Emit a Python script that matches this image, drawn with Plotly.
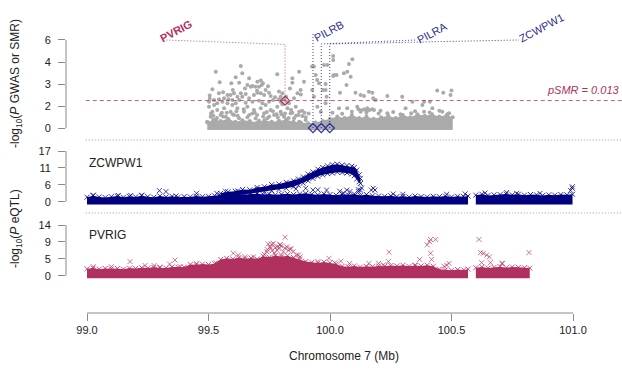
import plotly.graph_objects as go

# ---------------- data ----------------
x_tick_vals = [99.0, 99.5, 100.0, 100.5, 101.0]
x_tick_text = ["99.0", "99.5", "100.0", "100.5", "101.0"]
top_tick_vals = [0, 1.5, 3, 4.5, 6]
top_tick_text = ["0", "2", "3", "4", "6"]
mid_tick_vals = [0, 5.667, 11.333, 17]
mid_tick_text = ["0", "6", "11", "17"]
bot_tick_vals = [0, 4.667, 9.333, 14]
bot_tick_text = ["0", "5", "9", "14"]

p_smr_threshold = 0.013
p_smr_line = 1.886

gene_names = ["PVRIG", "PILRB", "PILRA", "ZCWPW1"]
gene_pos = [99.815, 99.930, 99.964, 99.999]
gene_smr = [1.88, 0.02, 0.02, 0.02]

# GWAS: dense core envelope + scattered points
gwas_core_x = [99.495, 99.52, 99.55, 99.58, 99.61, 99.64, 99.67, 99.70, 99.73, 99.76, 99.79, 99.82,
               99.85, 99.88, 99.91, 99.94, 99.97, 100.00, 100.03, 100.06, 100.09, 100.12, 100.15,
               100.18, 100.21, 100.24, 100.27, 100.30, 100.33, 100.36, 100.39, 100.42, 100.45,
               100.48, 100.505]
gwas_core_top = [0.4, 0.6, 0.5, 0.65, 0.45, 0.55, 0.5, 0.4, 0.55, 0.45, 0.5, 0.6, 0.45, 0.4, 0.35,
                 0.4, 0.5, 0.65, 0.8, 0.7, 0.9, 0.7, 0.8, 0.65, 0.75, 0.85, 0.7, 0.9, 0.75, 0.95,
                 0.85, 0.95, 0.8, 0.9, 0.75]
gwas_x = [99.633, 99.530, 99.873, 99.639, 99.783, 99.612, 99.845, 99.667, 99.546, 99.594, 99.626,
          99.845, 99.701, 99.715, 99.724, 99.681, 99.660, 99.674, 99.694, 99.708, 99.719, 99.735,
          99.749, 99.756, 99.729, 99.774, 99.804, 99.797, 99.820, 99.516, 99.543, 99.505, 99.578,
          99.591, 99.605, 99.619, 99.633, 99.639, 99.653, 99.667, 99.687, 99.701, 99.715, 99.626,
          99.598, 99.582, 99.564, 99.543, 99.523, 99.502, 99.536, 99.557, 99.578, 99.612, 99.653,
          99.681, 99.708, 99.722, 99.749, 99.766, 99.790, 99.811, 99.831, 99.852, 99.866, 99.879,
          99.502, 99.516, 99.509, 99.536, 99.550, 99.564, 99.571, 99.591, 99.605, 99.619, 99.626,
          99.646, 99.660, 99.667, 99.687, 99.694, 99.715, 99.729, 99.742, 99.756, 99.770, 99.783,
          99.797, 99.811, 99.825, 99.838, 99.852, 99.859, 99.873, 99.886, 99.900, 99.495, 99.530,
          99.584, 99.639, 99.708, 99.790, 99.873, 99.523, 99.598, 99.735, 99.804, 99.797, 99.820,
          99.934, 99.975, 99.941, 99.927, 99.955, 99.971, 99.934, 99.982, 99.948, 99.962, 99.893,
          99.926, 99.947, 99.912,
          100.092, 100.078, 100.057, 100.071, 100.085, 100.068, 100.041, 100.013, 100.027, 100.105,
          100.126, 100.140, 100.160, 100.174, 100.178, 100.188, 100.236, 100.297, 100.339, 100.387,
          100.411, 100.441, 100.466, 100.500, 100.496, 99.986, 99.982, 99.982, 100.013, 100.013,
          99.989, 100.016, 100.037, 100.071, 100.112, 100.126, 100.153, 100.181, 100.208, 100.236,
          100.311, 100.334, 100.380, 100.387, 100.421, 100.462, 100.485, 100.117, 100.128, 100.140,
          100.151, 100.163, 100.174, 100.01, 100.05, 100.09, 100.15, 100.2, 100.26, 100.29, 100.35,
          100.41, 100.45, 100.49, 99.52, 99.56, 99.60, 99.66, 99.70, 99.75, 99.78, 99.83, 99.86,
          99.90, 99.555, 99.615, 99.68, 99.74, 99.80, 99.845, 99.885,
          99.51, 99.535, 99.575, 99.62, 99.645, 99.69, 99.725, 99.765, 99.785, 99.815, 99.84,
          99.87, 99.895, 99.505, 99.56, 99.60, 99.65, 99.70, 99.745, 99.79, 99.835, 99.88]
gwas_y = [4.23, 3.85, 3.85, 3.74, 3.67, 3.46, 3.40, 3.40, 3.12, 3.06, 3.10,
          3.10, 3.17, 3.24, 3.06, 2.88, 2.94, 2.83, 2.83, 2.83, 2.94, 2.60,
          2.42, 2.20, 2.26, 2.11, 2.38, 2.15, 2.15, 2.65, 2.38, 2.22, 2.26,
          2.26, 2.38, 2.15, 2.38, 2.15, 2.33, 2.04, 2.26, 2.42, 2.38, 1.92,
          1.92, 1.97, 2.04, 1.97, 1.92, 1.81, 1.70, 1.81, 1.70, 1.70, 1.74,
          1.81, 1.88, 1.70, 1.81, 1.92, 1.97, 1.97, 1.70, 2.04, 2.38, 2.60,
          1.47, 1.13, 0.79, 1.25, 0.91, 1.36, 0.79, 1.13, 0.91, 1.36, 0.68,
          1.13, 1.47, 0.91, 1.25, 0.68, 1.36, 1.02, 0.68, 1.25, 0.91, 1.47,
          1.13, 0.79, 1.36, 1.02, 0.68, 1.47, 1.13, 0.84, 0.57, 0.45, 0.57,
          0.57, 0.45, 0.52, 0.52, 0.45, 1.59, 1.59, 1.59, 1.63, 1.81, 1.81,
          4.19, 4.30, 3.62, 2.60, 3.06, 2.60, 2.15, 1.70, 1.47, 1.13, 3.17,
          4.19, 3.28, 1.0,
          4.69, 4.37, 3.74, 3.85, 3.51, 2.94, 2.42, 3.55, 3.62, 2.42,
          2.26, 2.20, 2.49, 2.42, 2.04, 1.92, 2.20, 2.15, 1.81, 1.81,
          1.81, 2.56, 2.42, 2.56, 2.26, 2.15, 2.60, 3.01, 4.91, 4.64,
          4.30, 3.62, 1.36, 1.36, 1.47, 1.13, 1.36, 1.25, 1.20, 1.02,
          1.36, 1.02, 1.59, 1.13, 1.36, 1.13, 0.97, 1.30, 1.22, 1.28,
          1.20, 1.25, 1.30, 1.05, 0.98, 1.12, 1.05, 1.0, 1.1, 0.95, 1.15,
          1.08, 1.2, 1.02, 0.85, 0.8, 0.95, 0.75, 0.9, 0.8, 0.95, 0.7, 0.85,
          0.75, 1.05, 1.15, 1.0, 1.1, 0.95, 1.05, 1.2,
          1.0, 0.7, 1.05, 0.85, 1.3, 1.05, 0.8, 1.15, 0.75, 1.0, 1.25,
          0.9, 1.05, 2.0, 2.45, 2.6, 2.7, 2.55, 2.85, 2.5, 2.7, 2.3]

# ZCWPW1 eQTL
zc_seg1_x = [99.000, 99.025, 99.050, 99.075, 99.100, 99.125, 99.150, 99.175, 99.200, 99.225, 99.250,
             99.275, 99.300, 99.325, 99.350, 99.375, 99.400, 99.425, 99.450, 99.475, 99.500, 99.525,
             99.550, 99.575, 99.600, 99.625, 99.650, 99.675, 99.700, 99.725, 99.750, 99.775, 99.800,
             99.825, 99.850, 99.875, 99.900, 99.925, 99.950, 99.975, 100.000, 100.025, 100.050,
             100.075, 100.100, 100.125, 100.150, 100.175, 100.200, 100.225, 100.250, 100.275,
             100.300, 100.325, 100.350, 100.375, 100.400, 100.425, 100.450, 100.475, 100.500,
             100.525, 100.550, 100.568]
zc_seg1_top = [1.5, 2.0, 1.6, 1.4, 1.7, 1.9, 1.5, 1.8, 1.6, 2.0, 1.7,
               1.5, 1.9, 1.6, 1.8, 1.5, 1.7, 1.6, 1.9, 1.7, 1.8, 2.0,
               2.1, 2.4, 2.3, 2.6, 2.4, 2.5, 2.7, 2.4, 2.6, 2.3, 2.5,
               2.7, 2.4, 2.6, 2.8, 2.5, 2.3, 2.6, 2.4, 2.2, 2.5,
               2.3, 2.6, 2.1, 2.4, 2.0, 1.9, 1.8, 2.0, 1.7,
               1.8, 1.6, 1.9, 1.7, 1.6, 1.8, 1.7, 1.9, 1.6,
               1.8, 1.7, 1.9]
zc_seg2_x = [100.600, 100.625, 100.650, 100.675, 100.700, 100.725, 100.750, 100.775, 100.800,
             100.825, 100.850, 100.875, 100.900, 100.925, 100.950, 100.975, 100.998]
zc_seg2_top = [2.2, 2.5, 2.1, 2.3, 2.4, 2.6, 2.3, 2.5, 2.2, 2.4, 2.3, 2.1, 2.3, 2.2, 2.4, 2.3, 2.5]
zc_arc_x = [99.55, 99.58, 99.61, 99.64, 99.67, 99.70, 99.73, 99.76, 99.79, 99.82, 99.85, 99.87,
            99.89, 99.91, 99.93, 99.95, 99.97, 99.99, 100.01, 100.03, 100.05, 100.07, 100.09,
            100.10, 100.11, 100.12, 100.125]
zc_arc_top = [2.8, 3.3, 3.5, 4.1, 4.0, 4.8, 5.0, 5.7, 5.9, 6.5, 7.0, 7.6, 8.3, 9.3, 10.0, 10.9,
              11.5, 12.0, 12.4, 12.6, 12.3, 12.1, 11.9, 11.5, 10.6, 9.0, 7.8]
zc_arc_bot = [1.8, 2.0, 2.2, 2.5, 2.7, 3.0, 3.3, 3.7, 4.1, 4.5, 5.0, 5.5, 6.2, 7.0, 7.8, 8.5,
              9.0, 9.4, 9.6, 9.9, 9.8, 9.6, 9.3, 8.7, 7.6, 6.7, 6.1]
zc_out_x = [99.026, 99.129, 99.180, 99.225, 99.298, 99.325, 99.366, 99.451, 99.534, 99.57, 99.62,
            99.70, 99.76, 99.80, 99.84, 99.86, 99.90, 99.93, 99.95, 99.986, 100.04, 100.055, 100.069,
            100.082, 100.117, 100.117, 100.125, 100.13, 100.17, 100.178, 100.185, 100.26, 100.30,
            100.48, 100.556, 100.638, 100.727, 100.768, 100.864, 100.997, 100.997, 100.99]
zc_out_y = [2.2, 2.1, 2.1, 2.2, 3.7, 3.4, 1.9, 2.8, 2.8, 3.5, 3.6,
            4.2, 4.8, 5.0, 5.6, 4.3, 4.5, 3.9, 4.0, 3.9, 3.5, 2.9, 3.9,
            3.4, 3.4, 4.0, 3.9, 4.6, 3.9, 4.5, 3.9, 2.6, 2.5,
            2.5, 2.6, 2.9, 3.1, 2.8, 2.8, 5.0, 4.5, 3.8]

# PVRIG eQTL
pv_seg1_x = [99.000, 99.025, 99.050, 99.075, 99.100, 99.125, 99.150, 99.175, 99.200, 99.225, 99.250,
             99.275, 99.300, 99.325, 99.350, 99.375, 99.400, 99.425, 99.450, 99.475, 99.500, 99.525,
             99.550, 99.575, 99.600, 99.625, 99.650, 99.675, 99.700, 99.725, 99.750, 99.775, 99.800,
             99.825, 99.850, 99.875, 99.900, 99.925, 99.950, 99.975, 100.000, 100.025, 100.050,
             100.075, 100.100, 100.125, 100.150, 100.175, 100.200, 100.225, 100.250, 100.275,
             100.300, 100.325, 100.350, 100.375, 100.400, 100.425, 100.450, 100.475, 100.500,
             100.525, 100.550, 100.568]
pv_seg1_top = [1.9, 2.1, 1.8, 2.0, 1.9, 2.0, 1.8, 2.1, 2.0, 2.2, 2.1,
               2.3, 2.2, 2.1, 2.4, 2.3, 2.4, 3.1, 3.0, 3.2, 3.1, 3.3,
               4.5, 4.8, 4.6, 5.0, 4.7, 4.9, 4.6, 5.4, 5.1, 5.6, 5.2,
               5.5, 5.0, 4.6, 3.9, 3.7, 3.5, 3.8, 3.6, 3.2, 2.6,
               2.5, 2.7, 2.4, 2.6, 2.5, 2.7, 2.6, 2.8, 2.7,
               2.9, 2.6, 2.8, 2.7, 2.9, 2.6, 1.8, 1.6, 1.5,
               1.7, 1.6, 1.8]
pv_seg2_x = [100.600, 100.625, 100.650, 100.675, 100.700, 100.725, 100.750, 100.775, 100.800, 100.822]
pv_seg2_top = [2.2, 2.4, 2.1, 2.3, 2.5, 2.2, 2.4, 2.3, 2.2, 2.1]
pv_out_x = [99.026, 99.100, 99.177, 99.239, 99.276, 99.362, 99.383, 99.34, 99.30, 99.45, 99.53,
            99.746, 99.767, 99.794, 99.822, 99.835, 99.849, 99.863, 99.877, 99.808, 99.781, 99.756,
            99.740, 99.772, 99.800, 99.815, 99.602, 99.623, 99.650, 99.685, 99.753, 99.760, 99.795,
            99.815, 99.870, 99.786, 99.775, 99.829, 99.742, 99.762, 99.790, 99.800, 99.840, 99.730,
            99.950, 99.996, 100.02, 100.045, 100.08, 100.16, 100.20, 100.22, 100.24, 100.243,
            100.35, 100.369, 100.400, 100.410, 100.414, 100.414, 100.418, 100.435, 100.47, 100.48,
            100.49, 100.613, 100.62, 100.631, 100.645, 100.656, 100.624, 100.66, 100.707, 100.71,
            100.819]
pv_out_y = [2.5, 2.5, 3.9, 2.8, 2.8, 4.3, 2.5, 3.2, 2.4, 3.4, 3.6,
            8.75, 8.9, 8.5, 8.0, 7.3, 6.6, 5.7, 5.2, 6.6, 7.1, 7.6,
            6.6, 6.2, 5.7, 10.6, 6.2, 5.7, 5.2, 5.2, 8.0, 8.7, 8.6,
            7.6, 5.7, 8.1, 7.8, 7.0, 7.2, 6.9, 7.5, 8.2, 7.5, 5.9,
            3.9, 4.8, 3.6, 4.0, 3.4, 3.4, 3.4, 3.0, 3.9, 6.5,
            2.95, 4.5, 8.5, 9.4, 10.0, 6.2, 4.5, 10.0, 2.6, 2.95,
            3.4, 10.0, 6.4, 6.2, 5.7, 5.2, 3.6, 3.6, 3.4, 3.4,
            6.4]

# ---------------- layout constants ----------------
W, H = 622, 370
ML, MR, MT, MB = 66, 0, 0, 57
PW, PH = W - ML - MR, H - MT - MB
FONT = "Liberation Sans, Arial, sans-serif"
GRAY = "#AAAAAA"
NAVY = "#000080"
MAROON = "#B03060"
AXC = "#8a8a8a"
DOT = "1px,2px"


def fy(py):
    return (H - MB - py) / PH


def fx(px):
    return (px - ML) / PW


x_range = [98.9136, 101.2016]
top_range = [(128.3 - 140) / 14.72, 128.3 / 14.72]
mid_range = [(201.7 - 213) / 2.982, (201.7 - 140) / 2.982]
bot_range = [(275.7 - 313) / 3.621, (275.7 - 213) / 3.621]


def band(xs, tops, base):
    return list(xs) + list(xs)[::-1], list(tops) + [base] * len(xs)


fig = go.Figure()

# top panel GWAS
bx, by = band(gwas_core_x, gwas_core_top, -0.12)
fig.add_trace(go.Scatter(x=bx, y=by, fill="toself", fillcolor=GRAY, mode="lines",
                         line=dict(width=0, color=GRAY), yaxis="y", hoverinfo="skip"))
fig.add_trace(go.Scatter(x=gwas_core_x, y=gwas_core_top, mode="markers", yaxis="y",
                         marker=dict(size=4, color=GRAY)))
fig.add_trace(go.Scatter(x=gwas_x, y=gwas_y, mode="markers", yaxis="y",
                         marker=dict(size=4, color=GRAY)))

# pSMR threshold line
fig.add_trace(go.Scatter(x=[98.995, x_range[1]], y=[p_smr_line, p_smr_line], mode="lines",
                         yaxis="y", line=dict(color="rgba(176,48,96,0.75)", width=1, dash="4px,3px")))


def cross_marker(color):
    return dict(symbol="x-thin", size=5, line=dict(width=1, color=color))


# middle panel ZCWPW1
for xs, ts in [(zc_seg1_x, zc_seg1_top), (zc_seg2_x, zc_seg2_top)]:
    px_, py_ = band(xs, ts, -0.9)
    fig.add_trace(go.Scatter(x=px_, y=py_, fill="toself", fillcolor=NAVY, mode="lines",
                             line=dict(width=0, color=NAVY), yaxis="y2"))
    fig.add_trace(go.Scatter(x=xs, y=ts, mode="markers", yaxis="y2",
                             marker=cross_marker("rgba(0,0,128,0.8)")))
fig.add_trace(go.Scatter(x=zc_arc_x + zc_arc_x[::-1], y=zc_arc_top + zc_arc_bot[::-1],
                         fill="toself", fillcolor=NAVY, mode="lines",
                         line=dict(width=0, color=NAVY), yaxis="y2"))
fig.add_trace(go.Scatter(x=zc_arc_x + zc_arc_x, y=zc_arc_top + zc_arc_bot, mode="markers",
                         yaxis="y2", marker=cross_marker("rgba(0,0,128,0.8)")))
fig.add_trace(go.Scatter(x=zc_out_x, y=zc_out_y, mode="markers", yaxis="y2",
                         marker=cross_marker("rgba(0,0,128,0.75)")))

# bottom panel PVRIG
for xs, ts in [(pv_seg1_x, pv_seg1_top), (pv_seg2_x, pv_seg2_top)]:
    px_, py_ = band(xs, ts, -0.7)
    fig.add_trace(go.Scatter(x=px_, y=py_, fill="toself", fillcolor=MAROON, mode="lines",
                             line=dict(width=0, color=MAROON), yaxis="y3"))
    fig.add_trace(go.Scatter(x=xs, y=ts, mode="markers", yaxis="y3",
                             marker=cross_marker("rgba(176,48,96,0.8)")))
fig.add_trace(go.Scatter(x=pv_out_x, y=pv_out_y, mode="markers", yaxis="y3",
                         marker=cross_marker("rgba(176,48,96,0.65)")))

# gene connectors (label anchor positions are layout choices)
label_line_x = [99.321, None, 100.354, 100.778]
elbow_v = [5.70, 6.47, 5.73, 5.73]
label_v = [6.0, 6.47, 6.0, 6.0]
for i, g in enumerate(gene_names):
    col = "rgba(176,48,96,0.8)" if g == "PVRIG" else "rgba(0,0,128,0.75)"
    mcol = MAROON if g == "PVRIG" else "#3030A0"
    xs = [gene_pos[i], gene_pos[i]]
    ys = [gene_smr[i], elbow_v[i]]
    if label_line_x[i] is not None:
        xs.append(label_line_x[i])
        ys.append(label_v[i])
    fig.add_trace(go.Scatter(x=xs, y=ys, mode="lines", yaxis="y",
                             line=dict(color=col, width=1, dash=DOT)))
    fig.add_trace(go.Scatter(x=[gene_pos[i]], y=[gene_smr[i]], mode="markers", yaxis="y",
                             marker=dict(symbol="diamond-open", size=7, color=mcol,
                                         line=dict(width=1.2, color=mcol))))

# ---------------- axes ----------------
common_y = dict(showgrid=False, zeroline=False, showline=False, ticks="outside", ticklen=7,
                tickcolor=AXC, tickwidth=1, tickfont=dict(family=FONT, size=11, color="#222"),
                ticklabelstandoff=5, anchor="x", fixedrange=True)
fig.update_layout(
    width=W, height=H, margin=dict(l=ML, r=MR, t=MT, b=MB),
    paper_bgcolor="white", plot_bgcolor="white", showlegend=False,
    font=dict(family=FONT, size=11, color="#222"),
    xaxis=dict(range=x_range, showgrid=False, zeroline=False, showline=False,
               tickvals=x_tick_vals, ticktext=x_tick_text, ticks="outside", ticklen=7,
               tickcolor=AXC, tickfont=dict(family=FONT, size=11, color="#222"),
               ticklabelstandoff=0, anchor="y3",
               title=dict(text="Chromosome 7 (Mb)", font=dict(family=FONT, size=12, color="#222"),
                          standoff=16)),
    yaxis=dict(domain=[fy(140), fy(0)], range=top_range, tickvals=top_tick_vals,
               ticktext=top_tick_text, **common_y),
    yaxis2=dict(domain=[fy(213), fy(140)], range=mid_range, tickvals=mid_tick_vals,
                ticktext=mid_tick_text, **common_y),
    yaxis3=dict(domain=[0, fy(213)], range=bot_range, tickvals=bot_tick_vals,
                ticktext=bot_tick_text, **common_y),
)

shapes = []
# y axis lines
for yr, top in [("y", 6), ("y2", 17), ("y3", 14)]:
    shapes.append(dict(type="line", xref="paper", yref=yr, x0=0, x1=0, y0=0, y1=top,
                       line=dict(color=AXC, width=1)))
# x axis line
shapes.append(dict(type="line", xref="x", yref="paper", x0=99.0, x1=101.0, y0=0, y1=0,
                   line=dict(color=AXC, width=1)))
# separators
for py in (140, 213):
    shapes.append(dict(type="line", xref="x", yref="paper", x0=98.995, x1=x_range[1],
                       y0=fy(py), y1=fy(py), line=dict(color="#9a9a9a", width=1, dash=DOT)))
fig.update_layout(shapes=shapes)

ann = []
label_centers = [(176, 31), (329, 31), (432, 33), (541, 28)]
for g, (cx, cy) in zip(gene_names, label_centers):
    if g == "PVRIG":
        txt, col = "<b>PVRIG</b>", MAROON
    else:
        txt, col = g, "#2E2E8E"
    ann.append(dict(text=txt, x=fx(cx), y=fy(cy), xref="paper", yref="paper", showarrow=False,
                    textangle=-28, xanchor="center", yanchor="middle",
                    font=dict(family=FONT, size=11, color=col)))
ann.append(dict(text="<i>pSMR = %s</i>" % p_smr_threshold, x=1.0, y=fy(90), xref="paper",
                yref="paper", xanchor="right", yanchor="middle", showarrow=False,
                font=dict(family=FONT, size=11, color=MAROON)))
ann.append(dict(text="ZCWPW1", x=fx(87), y=fy(163), xref="paper", yref="paper", xanchor="left",
                yanchor="middle", showarrow=False, font=dict(family=FONT, size=12, color="#222")))
ann.append(dict(text="PVRIG", x=fx(87), y=fy(235), xref="paper", yref="paper", xanchor="left",
                yanchor="middle", showarrow=False, font=dict(family=FONT, size=12, color="#222")))
ann.append(dict(text="-log<sub>10</sub>(<i>P</i> GWAS or SMR)", x=fx(16), y=fy(84), xref="paper",
                yref="paper", textangle=-90, xanchor="center", yanchor="middle", showarrow=False,
                font=dict(family=FONT, size=12, color="#222")))
ann.append(dict(text="-log<sub>10</sub>(<i>P</i> eQTL)", x=fx(16), y=fy(229), xref="paper",
                yref="paper", textangle=-90, xanchor="center", yanchor="middle", showarrow=False,
                font=dict(family=FONT, size=12, color="#222")))
fig.update_layout(annotations=ann)

fig.write_html("out.html")
